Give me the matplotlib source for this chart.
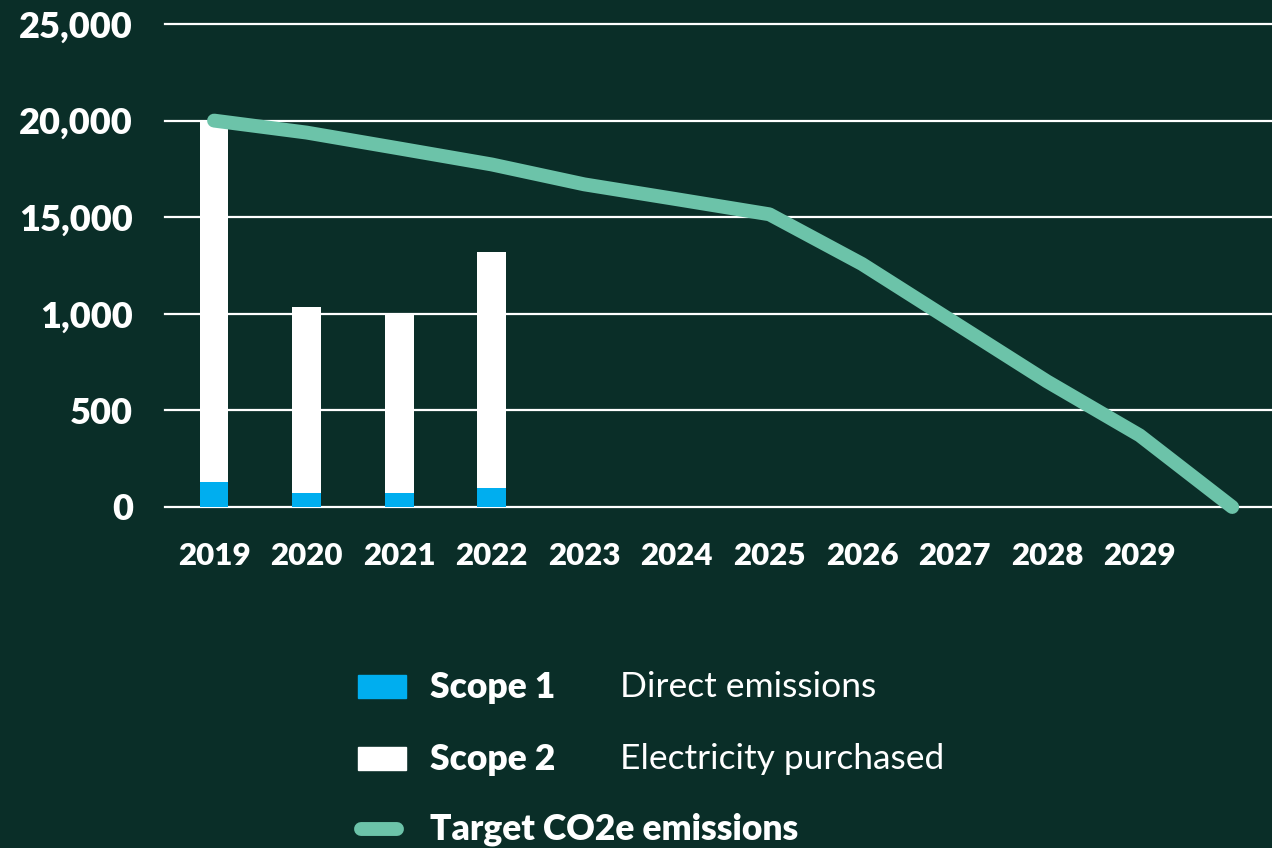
import matplotlib.pyplot as plt
import numpy as np

plt.rcParams['font.family'] = ['Lato', 'DejaVu Sans']

BG = '#0a2e28'
BLUE = '#00aeef'
GREEN = '#6cc3a9'

# data (tonnes CO2e)
bar_years = [2019, 2020, 2021, 2022]
scope1 = [1290, 740, 740, 1000]
scope_total = [20000, 10360, 10050, 13200]
scope2 = [t - s for t, s in zip(scope_total, scope1)]

target_years = list(range(2019, 2031))
target = [20000, 19380, 18560, 17730, 16700, 15930, 15150, 12580, 9540, 6500, 3710, 0]

tick_years = list(range(2019, 2030))
ytick_vals = [0, 5000, 10000, 15000, 20000, 25000]
ytick_text = ['0', '500', '1,000', '15,000', '20,000', '25,000']

fig = plt.figure(figsize=(12.72, 8.48), dpi=100, facecolor=BG)
ax = fig.add_axes([165 / 1272, 1 - 507 / 848, 1 - 165 / 1272, (507 - 24) / 848])
ax.set_facecolor(BG)

for v in ytick_vals:
    ax.axhline(v, color='white', lw=1.6, zorder=1, clip_on=False)

ax.bar(bar_years, scope1, width=0.31, color=BLUE, zorder=2)
ax.bar(bar_years, scope2, width=0.31, bottom=scope1, color='white', zorder=2)
ax.plot(target_years, target, color=GREEN, lw=10, solid_capstyle='round',
        solid_joinstyle='round', zorder=3, clip_on=False)

ax.set_xlim(2018.47, 2030.43)
ax.set_ylim(0, 25000)
ax.set_xticks(tick_years)
ax.set_xticklabels([str(y) for y in tick_years])
ax.set_yticks(ytick_vals)
ax.set_yticklabels(ytick_text)
ax.tick_params(length=0, colors='white')
ax.tick_params(axis='x', labelsize=22.5, pad=25)
ax.tick_params(axis='y', labelsize=26, pad=23)
for lab in ax.get_xticklabels() + ax.get_yticklabels():
    lab.set_fontweight('heavy')
for s in ax.spines.values():
    s.set_visible(False)

# legend
def fx(px):
    return px / 1272

def fy(py):
    return 1 - py / 848

fig.patches.append(plt.Rectangle((fx(358), fy(698)), fx(48), 23 / 848,
                                 color=BLUE, transform=fig.transFigure))
fig.patches.append(plt.Rectangle((fx(358), fy(770)), fx(48), 23 / 848,
                                 color='white', transform=fig.transFigure))
fig.add_artist(plt.Line2D([fx(361), fx(397)], [fy(829), fy(829)], color=GREEN,
                          lw=10, solid_capstyle='round', transform=fig.transFigure))

rows = [(687, 'Scope 1', 'Direct emissions'),
        (759, 'Scope 2', 'Electricity purchased'),
        (829, 'Target CO2e emissions', None)]
for py, bold, light in rows:
    fig.text(fx(430), fy(py), bold, color='white', fontsize=25.5, fontweight='heavy',
             va='center', ha='left')
    if light:
        fig.text(fx(620), fy(py), light, color='white', fontsize=25.5,
                 va='center', ha='left')

fig.savefig('out.png', dpi=100, facecolor=BG)
